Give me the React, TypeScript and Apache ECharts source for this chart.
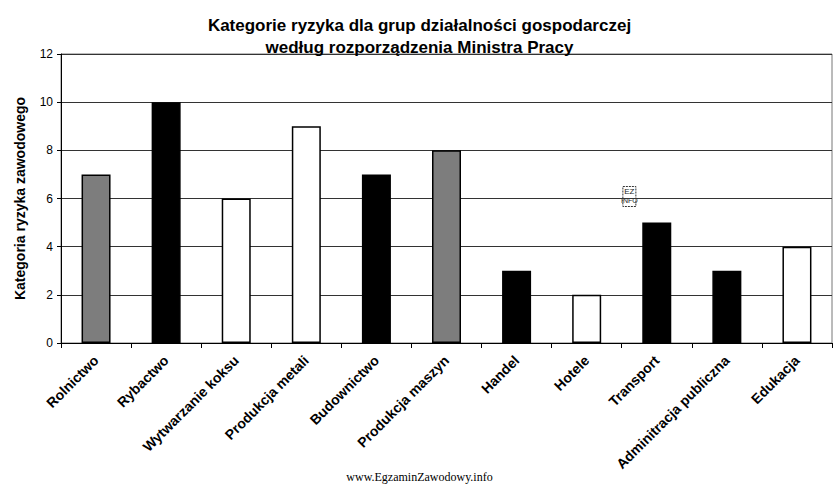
import React, { useEffect, useRef } from "react";
import * as echarts from "echarts";

const titleLines = [
  "Kategorie ryzyka dla grup działalności gospodarczej",
  "według rozporządzenia Ministra Pracy",
];
const yAxisTitle = "Kategoria ryzyka zawodowego";
const categories = [
  "Rolnictwo",
  "Rybactwo",
  "Wytwarzanie koksu",
  "Produkcja metali",
  "Budownictwo",
  "Produkcja maszyn",
  "Handel",
  "Hotele",
  "Transport",
  "Adminitracja publiczna",
  "Edukacja",
];
const riskValues = [7, 10, 6, 9, 7, 8, 3, 2, 5, 3, 4];
// fill kind of each bar as shown in the original
const fillKinds = ["gray", "black", "white", "white", "black", "gray", "black", "white", "black", "black", "white"];
const yTicks = { min: 0, max: 12, interval: 2 };
const footerText = "www.EgzaminZawodowy.info";

const palette: Record<string, string> = {
  gray: "#7d7d7d",
  black: "#000000",
  white: "#ffffff",
};

export default function App() {
  const ref = useRef<HTMLDivElement>(null);
  useEffect(() => {
    if (!ref.current) return;
    const chart = echarts.init(ref.current, null, { renderer: "svg" });
    const sans = "'Liberation Sans', Arial, sans-serif";
    chart.setOption({
      animation: false,
      backgroundColor: "#ffffff",
      title: {
        text: titleLines.join("\n"),
        left: "center",
        top: 9,
        textStyle: {
          fontFamily: "'Liberation Sans Narrow', 'Liberation Sans', Arial, sans-serif",
          fontWeight: "bold",
          fontSize: 17,
          lineHeight: 22,
          color: "#000",
        },
      },
      grid: {
        left: 61,
        right: 7,
        top: 54,
        bottom: 142,
        show: true,
        borderColor: "#777",
        borderWidth: 1,
        backgroundColor: "transparent",
      },
      xAxis: {
        type: "category",
        data: categories,
        axisLine: { lineStyle: { color: "#000", width: 1 } },
        axisTick: { show: true, length: 5, lineStyle: { color: "#000" } },
        axisLabel: {
          rotate: 45,
          interval: 0,
          margin: 15,
          fontFamily: sans,
          fontWeight: "bold",
          fontSize: 14,
          color: "#000",
        },
      },
      yAxis: {
        type: "value",
        min: yTicks.min,
        max: yTicks.max,
        interval: yTicks.interval,
        name: yAxisTitle,
        nameLocation: "middle",
        nameGap: 34,
        nameTextStyle: {
          fontFamily: sans,
          fontWeight: "bold",
          fontSize: 14,
          color: "#000",
        },
        axisLine: { show: true, lineStyle: { color: "#000", width: 1 } },
        axisTick: { show: true, length: 4, lineStyle: { color: "#000" } },
        axisLabel: { fontFamily: sans, fontSize: 12, color: "#000", margin: 8 },
        splitLine: { show: true, lineStyle: { color: "#333", width: 1 } },
      },
      series: [
        {
          type: "bar",
          barWidth: 29,
          data: riskValues.map((v, i) => ({
            value: v,
            itemStyle: {
              color: palette[fillKinds[i]],
              borderColor: "#000",
              borderWidth: 1.5,
            },
          })),
        },
      ],
      graphic: [
        {
          type: "group",
          left: 621,
          top: 186,
          children: [
            {
              type: "rect",
              shape: { x: 0, y: 0, width: 13, height: 20 },
              style: { fill: "#fff", stroke: "#333", lineWidth: 1, lineDash: [2, 1] },
            },
            {
              type: "text",
              x: 6.5,
              y: 1,
              style: { text: "EZ", fontFamily: sans, fontSize: 8, fill: "#222", align: "center" },
            },
            {
              type: "text",
              x: 6.5,
              y: 10,
              style: { text: "INFO", fontFamily: sans, fontSize: 7, fill: "#222", align: "center" },
            },
          ],
        },
        {
          type: "text",
          left: "center",
          top: 471,
          style: {
            text: footerText,
            fontFamily: "'Liberation Serif', 'Times New Roman', serif",
            fontSize: 12,
            fill: "#000",
          },
        },
      ],
    });
    return () => chart.dispose();
  }, []);
  return (
    <div
      ref={ref}
      style={{ position: "fixed", left: 0, top: 0, width: 839, height: 485 }}
    />
  );
}
